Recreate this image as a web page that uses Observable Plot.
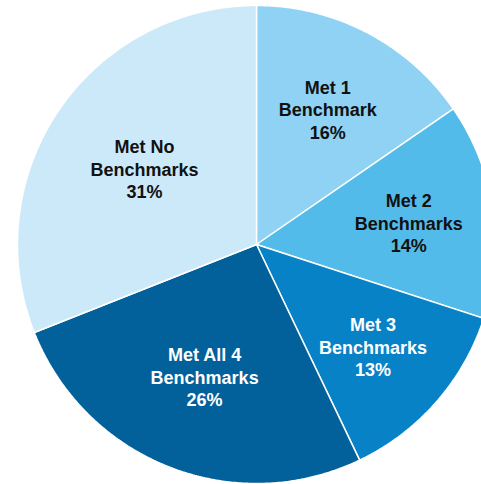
<!DOCTYPE html>
<html>
<head>
<meta charset="utf-8">
<script src="https://cdn.jsdelivr.net/npm/d3@7"></script>
<script src="https://cdn.jsdelivr.net/npm/@observablehq/plot@0.6"></script>
<style>
  html, body { margin: 0; padding: 0; background: #fff; }
  #chart { width: 481px; height: 484px; }
</style>
</head>
<body>
<div id="chart"></div>
<script>
// Data (clockwise from 12 o'clock)
const categories = ["Met 1 Benchmark", "Met 2 Benchmarks", "Met 3 Benchmarks", "Met All 4 Benchmarks", "Met No Benchmarks"];
const labelLines = [["Met 1", "Benchmark"], ["Met 2", "Benchmarks"], ["Met 3", "Benchmarks"], ["Met All 4", "Benchmarks"], ["Met No", "Benchmarks"]];
const values = [15.4, 14.6, 12.9, 26.1, 31.0];
const percentLabels = ["16%", "14%", "13%", "26%", "31%"];
const colors = ["#8fd2f3", "#53bbe9", "#0782c6", "#02619b", "#cbe9f9"];
const textColors = ["#111", "#111", "#fff", "#fff", "#111"];

// Build slice outlines from the values with d3.pie
const pie = d3.pie().sort(null).value(d => d)(values);
const outline = [];
const labels = [];
pie.forEach((p, i) => {
  const a0 = p.startAngle, a1 = p.endAngle;
  outline.push({cat: categories[i], x: 0, y: 0});
  const n = Math.max(2, Math.ceil((a1 - a0) / (Math.PI / 360)));
  for (let k = 0; k <= n; k++) {
    const a = a0 + (a1 - a0) * k / n;
    outline.push({cat: categories[i], x: Math.sin(a), y: Math.cos(a)});
  }
  outline.push({cat: categories[i], x: 0, y: 0});
  // label at the sector's area centroid
  const mid = (a0 + a1) / 2;
  const half = (a1 - a0) / 2;
  const r = 2 * Math.sin(half) / (3 * half);
  labels.push({
    cat: categories[i],
    text: labelLines[i].join("\n") + "\n" + percentLabels[i],
    x: r * Math.sin(mid),
    y: r * Math.cos(mid),
    tc: textColors[i]
  });
});

const R = 239;
const chart = Plot.plot({
  width: 481,
  height: 484,
  margin: 0,
  x: {domain: [-256 / R, 225 / R], axis: null},
  y: {domain: [-240 / R, 244 / R], axis: null},
  color: {domain: categories, range: colors},
  marks: [
    Plot.line(outline, {x: "x", y: "y", z: "cat", fill: "cat", stroke: "white", strokeWidth: 1.5, strokeLinejoin: "miter", curve: "linear"}),
    Plot.text(labels, {
      x: "x", y: "y", text: "text", fill: d => d.tc,
      fontSize: 18, fontWeight: "bold", lineHeight: 1.25,
      fontFamily: "Liberation Sans, Arial, Helvetica, sans-serif"
    })
  ]
});
document.getElementById("chart").appendChild(chart);
</script>
</body>
</html>
